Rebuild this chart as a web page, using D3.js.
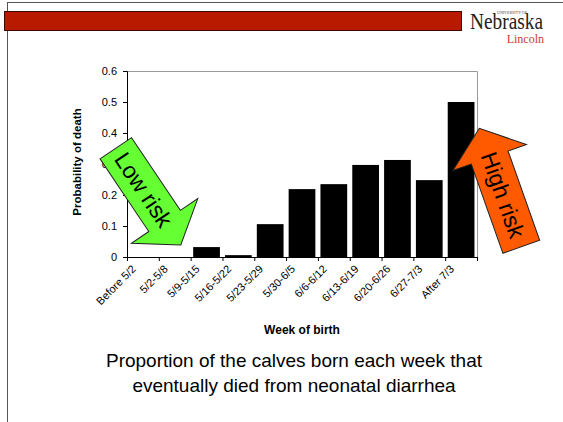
<!DOCTYPE html>
<html lang="en">
<head>
<meta charset="UTF-8">
<script src="https://d3js.org/d3.v7.min.js"></script>
<title>Week of birth</title>
<style>
    body { margin: 0; background: #fff; }
    text { font-family: "Liberation Sans", Arial, sans-serif; }
</style>
</head>
<body>
<script>
    // chart values
    const weeks = ["Before 5/2", "5/2-5/8", "5/9-5/15", "5/16-5/22", "5/23-5/29", "5/30-6/5",
        "6/6-6/12", "6/13-6/19", "6/20-6/26", "6/27-7/3", "After 7/3"];
    const deathProb = [0, 0, 0.032, 0.006, 0.106, 0.219, 0.235, 0.297, 0.313, 0.248, 0.5];
    const yTicks = [0, 0.1, 0.2, 0.3, 0.4, 0.5, 0.6];
    const captionLines = ["Proportion of the calves born each week that", "eventually died from neonatal diarrhea"];

    const W = 563, H = 422;
    const plot = { left: 127, right: 477, top: 71, bottom: 257 };

    const svg = d3.select("body").append("svg")
        .attr("width", W).attr("height", H);

    // slide frame + header bar
    svg.append("line").attr("x1", 7).attr("y1", 2.5).attr("x2", W).attr("y2", 2.5)
        .attr("stroke", "#555").attr("stroke-width", 1);
    svg.append("line").attr("x1", 7.5).attr("y1", 2).attr("x2", 7.5).attr("y2", H)
        .attr("stroke", "#555").attr("stroke-width", 1);
    svg.append("rect").attr("x", 4.5).attr("y", 11.5).attr("width", 457).attr("height", 19)
        .attr("fill", "#b81a00").attr("stroke", "#3a0a00").attr("stroke-width", 1);

    // logo
    svg.append("text").attr("x", 470).attr("y", 29)
        .style("font-family", "'Liberation Serif', 'DejaVu Serif', serif")
        .style("font-size", "23px").attr("fill", "#222").attr("textLength", 73)
        .attr("lengthAdjust", "spacingAndGlyphs")
        .text("Nebraska");
    svg.append("text").attr("x", 497).attr("y", 14)
        .style("font-family", "'Liberation Serif', serif")
        .style("font-size", "4.5px").attr("fill", "#444")
        .attr("textLength", 30).attr("lengthAdjust", "spacingAndGlyphs")
        .text("UNIVERSITY OF");
    svg.append("text").attr("x", 544).attr("y", 43).attr("text-anchor", "end")
        .style("font-family", "'Liberation Serif', serif")
        .style("font-size", "12px").attr("fill", "#cc3a30").text("Lincoln");

    const x = d3.scaleBand()
        .domain(weeks)
        .range([plot.left, plot.right])
        .paddingInner(0.16)
        .paddingOuter(0.08);

    const y = d3.scaleLinear()
        .domain([0, 0.6])
        .range([plot.bottom, plot.top]);

    // gray plot frame (top / right)
    svg.append("path")
        .attr("d", `M${plot.left},${plot.top + 0.5}H${plot.right + 0.5}V${plot.bottom}`)
        .attr("fill", "none").attr("stroke", "#999").attr("stroke-width", 1);

    svg.selectAll("rect.bar")
        .data(weeks)
        .enter().append("rect")
        .attr("class", "bar")
        .attr("x", d => x(d))
        .attr("width", x.bandwidth())
        .attr("y", (d, i) => y(deathProb[i]))
        .attr("height", (d, i) => y(0) - y(deathProb[i]))
        .attr("fill", "#000");

    // y axis
    const yAxis = svg.append("g")
        .attr("transform", `translate(${plot.left},0)`)
        .call(d3.axisLeft(y).tickValues(yTicks).tickSize(4).tickPadding(6)
            .tickFormat(d => d === 0 ? "0" : d3.format(".1f")(d)));
    yAxis.selectAll("text").style("font-size", "11px").attr("fill", "#000");
    yAxis.selectAll("line, path").attr("stroke", "#000");

    // x axis with ticks at band boundaries
    const gap = x.step() * x.paddingInner() / 2;
    const bounds = weeks.map(d => x(d) - gap).concat([plot.right]);
    const xAxis = svg.append("g");
    xAxis.append("line")
        .attr("x1", plot.left).attr("x2", plot.right)
        .attr("y1", plot.bottom + 0.5).attr("y2", plot.bottom + 0.5)
        .attr("stroke", "#000");
    xAxis.selectAll("line.tick")
        .data(bounds)
        .enter().append("line")
        .attr("class", "tick")
        .attr("x1", d => d + 0.5).attr("x2", d => d + 0.5)
        .attr("y1", plot.bottom).attr("y2", plot.bottom + 4)
        .attr("stroke", "#000");
    xAxis.selectAll("text")
        .data(weeks)
        .enter().append("text")
        .attr("transform", d => `translate(${x(d) + x.bandwidth() / 2 - 9},${plot.bottom + 10}) rotate(-45)`)
        .attr("text-anchor", "end")
        .attr("dy", "0.35em")
        .style("font-size", "11px")
        .text(d => d);

    svg.append("text")
        .attr("x", 302).attr("y", 334)
        .attr("text-anchor", "middle")
        .style("font-size", "12px").style("font-weight", "bold")
        .text("Week of birth");

    svg.append("text")
        .attr("transform", `translate(81,${(plot.top + plot.bottom) / 2 - 2}) rotate(-90)`)
        .attr("text-anchor", "middle")
        .style("font-size", "11.5px").style("font-weight", "bold")
        .text("Probability of death");

    // caption
    svg.selectAll("text.caption")
        .data(captionLines)
        .enter().append("text")
        .attr("class", "caption")
        .attr("x", 294)
        .attr("y", (d, i) => 367 + i * 24.5)
        .attr("text-anchor", "middle")
        .style("font-size", "19px")
        .text(d => d);

    // block arrows
    function blockArrow(tail, angle, len, shaftHalf, headLen, headHalf, fill, label, textAt, textAngle) {
        const g = svg.append("g")
            .attr("transform", `translate(${tail[0]},${tail[1]}) rotate(${angle})`);
        const s = len - headLen;
        g.append("path")
            .attr("d", `M0,${-shaftHalf}L${s},${-shaftHalf}L${s},${-headHalf}L${len},0` +
                `L${s},${headHalf}L${s},${shaftHalf}L0,${shaftHalf}Z`)
            .attr("fill", fill).attr("stroke", "#222").attr("stroke-width", 1);
        g.append("text")
            .attr("transform", `translate(${textAt},0) rotate(${textAngle - angle})`)
            .attr("text-anchor", "middle").attr("dy", "0.35em")
            .style("font-size", "23px").attr("fill", "#000")
            .text(label);
    }
    blockArrow([115.8, 148.3], 56.1, 116.5, 19, 29, 40, "#66ff33", "Low risk", 50, 56.1);
    blockArrow([521.3, 246.8], -109.5, 125.7, 19.5, 31, 39, "#ff5a00", "High risk", 55, 70.5);
</script>
</body>
</html>
